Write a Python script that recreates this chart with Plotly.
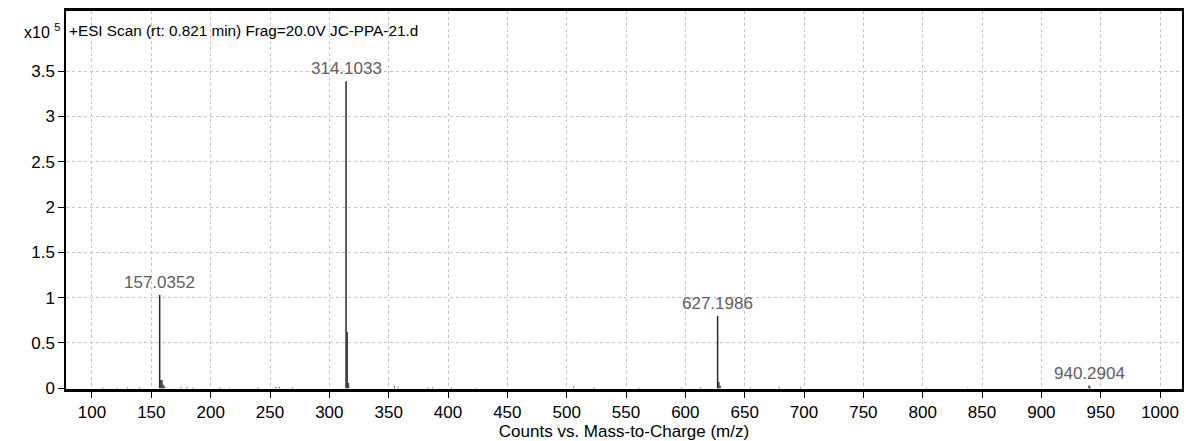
import plotly.graph_objects as go

# labelled peaks (m/z, intensity in units of 1e5 counts)
peak_mz = [157.0352, 314.1033, 627.1986, 940.2904]
peak_int = [1.03, 3.39, 0.80, 0.03]
peak_labels = ['157.0352', '314.1033', '627.1986', '940.2904']

# isotope / shoulder peaks next to the main ones
iso_mz = [158.0, 159.0, 160.0, 161.0, 315.1, 316.1, 628.2, 629.2, 941.3]
iso_int = [0.09, 0.09, 0.04, 0.02, 0.62, 0.06, 0.07, 0.03, 0.01]

# baseline noise
noise_mz = [109, 121, 130, 140, 175, 180, 185, 208, 216, 240, 255, 258, 269, 355, 358,
            383, 387, 403, 424, 506, 523, 561, 597, 613, 655, 679, 697, 803, 838]
noise_int = [0.01, 0.008, 0.01, 0.01, 0.015, 0.015, 0.01, 0.01, 0.008, 0.01, 0.015, 0.015, 0.01, 0.025, 0.015,
             0.01, 0.01, 0.01, 0.008, 0.02, 0.01, 0.008, 0.01, 0.012, 0.01, 0.015, 0.012, 0.008, 0.008]

x_ticks = list(range(100, 1001, 50))
y_ticks = [0, 0.5, 1, 1.5, 2, 2.5, 3, 3.5]
y_ticktext = ['0', '0.5', '1', '1.5', '2', '2.5', '3', '3.5']


def sticks(mz, inten):
    xs, ys = [], []
    for m, h in zip(mz, inten):
        xs += [m, m, None]
        ys += [0, h, None]
    return xs, ys


font = 'Liberation Sans, Arial, sans-serif'
fig = go.Figure()

nx, ny = sticks(noise_mz, noise_int)
fig.add_trace(go.Scatter(x=nx, y=ny, mode='lines', line=dict(color='#555555', width=1), hoverinfo='skip'))
ix, iy = sticks(iso_mz, iso_int)
fig.add_trace(go.Scatter(x=ix, y=iy, mode='lines', line=dict(color='#444444', width=1.5), hoverinfo='skip'))
px, py = sticks(peak_mz, peak_int)
fig.add_trace(go.Scatter(x=px, y=py, mode='lines', line=dict(color='#2a2a2a', width=1.5)))

for m, h, lab in zip(peak_mz, peak_int, peak_labels):
    fig.add_annotation(x=m, y=h, text=lab, showarrow=False, yanchor='bottom', yshift=1,
                       font=dict(family=font, size=17, color='#606060'))

# title inside the frame and the exponent label
fig.add_annotation(xref='paper', yref='paper', x=0, y=1, xanchor='left', yanchor='top',
                   xshift=1, yshift=-9, showarrow=False,
                   text='+ESI Scan (rt: 0.821 min) Frag=20.0V JC-PPA-21.d',
                   font=dict(family=font, size=15.3, color='#000000'))
fig.add_annotation(xref='paper', yref='paper', x=0, y=1, xanchor='right', yanchor='top',
                   xshift=-4, yshift=-8, showarrow=False, text='x10 <sup>5</sup>',
                   font=dict(family=font, size=16, color='#000000'))

# white header band so the grid stops below the title
fig.add_shape(type='rect', xref='paper', yref='y', x0=0, x1=1, y0=3.73, y1=4.3,
              fillcolor='white', line=dict(width=0), layer='between')

fig.update_layout(
    width=1186, height=441,
    margin=dict(l=66, r=2, t=11, b=52),
    plot_bgcolor='white', paper_bgcolor='white',
    showlegend=False,
    font=dict(family=font, size=17, color='#000000'),
    xaxis=dict(range=[78.1, 1018.5], tickvals=x_ticks, ticks='outside', ticklen=6,
               tickcolor='black', showline=True, linecolor='black', linewidth=2.5, mirror=True,
               showgrid=True, gridcolor='#c4c4c4', griddash='dot', gridwidth=1, zeroline=False,
               title=dict(text='Counts vs. Mass-to-Charge (m/z)', standoff=4,
                          font=dict(family=font, size=17))),
    yaxis=dict(range=[-0.008, 4.164], tickvals=y_ticks, ticktext=y_ticktext, ticks='outside',
               ticklen=6, tickcolor='black', showline=True, linecolor='black', linewidth=1.5,
               mirror=True, showgrid=True, gridcolor='#c4c4c4', griddash='dot', gridwidth=1,
               zeroline=False),
)

fig.write_html('out.html', config={'displayModeBar': False},
               post_script="document.body.style.margin='0';")
